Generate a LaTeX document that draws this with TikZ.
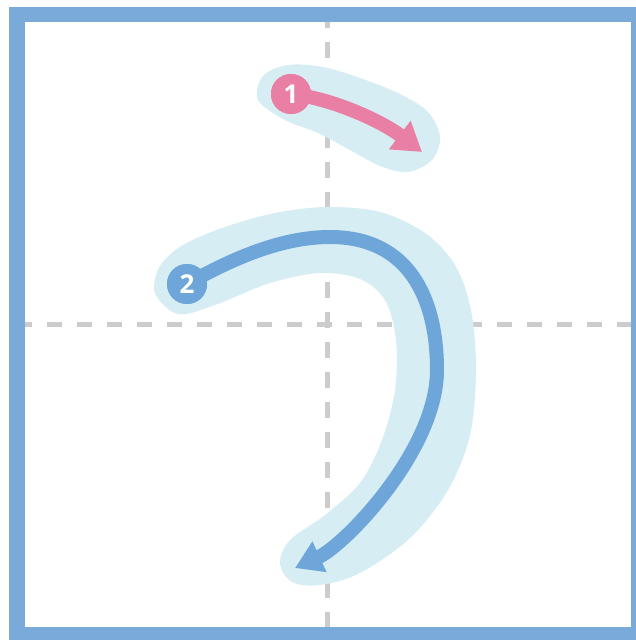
\documentclass[tikz,border=0pt]{standalone}
\usepackage{fontspec}
\setsansfont{Open Sans}
\usetikzlibrary{arrows.meta}
\definecolor{framec}{HTML}{7AAADA}
\definecolor{bluec}{HTML}{6FA6DA}
\definecolor{haloc}{HTML}{D6EDF3}
\definecolor{pinkc}{HTML}{E97FA4}
\definecolor{dashc}{HTML}{CCCCCC}
\tikzset{
  guide/.style={draw=dashc,line width=5pt},
  halo/.style={fill=haloc,draw=none},
  strokeline/.style={line width=14pt,line cap=butt},
  numdot/.style={circle,minimum size=40pt,inner sep=0pt,text=white,font=\sffamily\bfseries\fontsize{26}{26}\selectfont},
}
\begin{document}
\begin{tikzpicture}[x=1pt,y=-1pt]
\useasboundingbox (0,0) rectangle (636,640);
\clip (0,0) rectangle (636,640);
\fill[white] (0,0) rectangle (636,640);
% guides
\coordinate (vt) at (327,12);
\coordinate (vb) at (327,630);
\coordinate (hl) at (17,324);
\coordinate (hr) at (636,324);
\draw[guide,dash pattern=on 16pt off 14pt] (vt) -- (vb);
\draw[guide,dash pattern=on 15pt off 15pt] (hl) -- (hr);
% halos
\path[halo] plot[smooth cycle,tension=0.55] coordinates {
  (258,100) (263,76) (288,65) (323,67) (360,78) (400,94) (428,112)
  (440,137) (432,160) (408,172) (380,166) (350,150) (318,133)
  (285,120)};
\path[halo] plot[smooth cycle,tension=0.55] coordinates {
  (155,293) (160,266) (183,245) (225,227) (275,213) (327,207) (380,212)
  (425,233) (455,265) (471,310) (476,370) (470,435) (448,490) (410,538)
  (360,573) (320,585) (292,582) (280,563) (290,540) (325,515) (360,483)
  (382,440) (395,390) (396,340) (385,300) (360,279) (320,273) (270,283)
  (215,305) (178,314)};
% stroke 1
\node[numdot,fill=pinkc] (n1) at (291,94) {1};
\draw[pinkc,strokeline,-{Triangle[length=28pt,width=34pt]}] (n1.center) .. controls (330,98) and (380,120) .. (422,152);
\node[numdot,fill=pinkc] at (291,94) {1};
% stroke 2
\node[numdot,fill=bluec] (n2) at (187,284) {2};
\draw[bluec,strokeline,-{Triangle[length=27pt,width=32pt]}] (n2.center) .. controls (230,260) and (280,237) .. (330,237)
   .. controls (410,237) and (437,300) .. (437,370)
   .. controls (437,450) and (345,545) .. (295,568);
\node[numdot,fill=bluec] at (187,284) {2};
% frame
\draw[framec,line width=15.5pt] (17,14.5) rectangle (638.5,634.5);
\end{tikzpicture}
\end{document}
